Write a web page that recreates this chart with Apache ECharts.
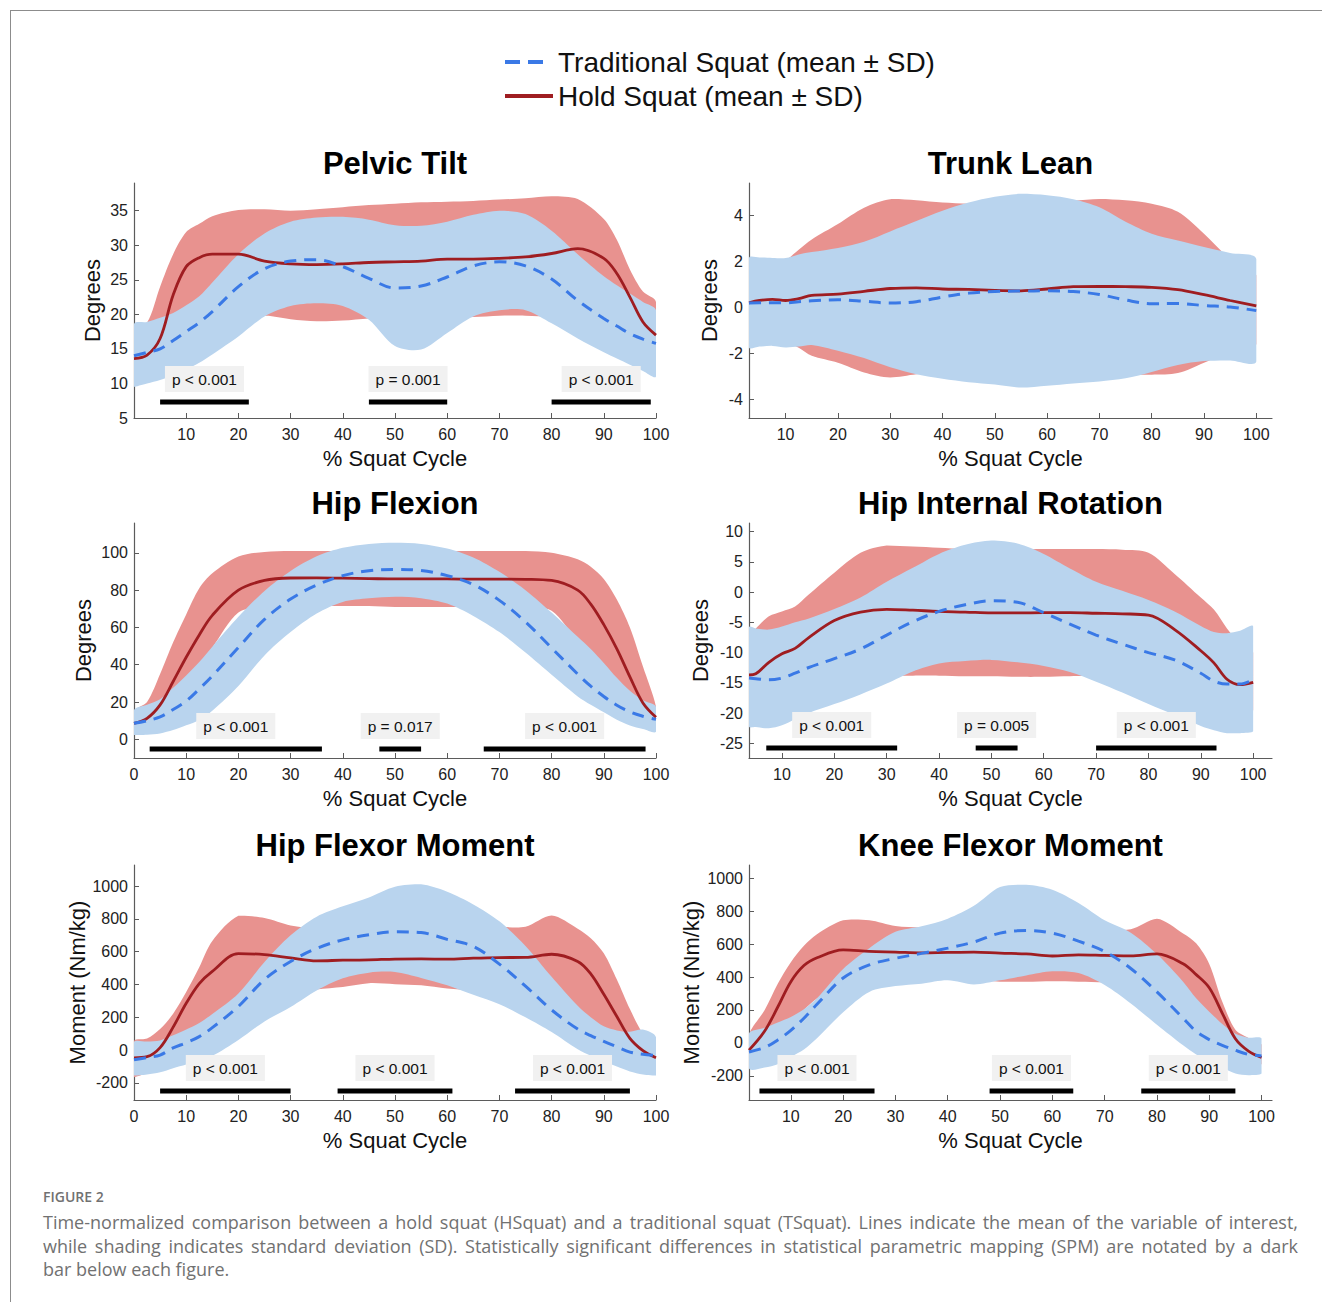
<!DOCTYPE html>
<html>
<head>
<meta charset="utf-8">
<title>Hold squat vs traditional squat</title>
<script src="https://cdn.jsdelivr.net/npm/echarts@6/dist/echarts.min.js"></script>
<style>
  html, body { margin: 0; padding: 0; background: #fff; }
  #page { position: relative; width: 1322px; height: 1302px; overflow: hidden; }
  #frame { position: absolute; left: 10px; top: 10px; right: 0; bottom: 0; border-top: 1px solid #8c8c8c; border-left: 1px solid #8c8c8c; }
  #chart { position: absolute; left: 0; top: 0; width: 1322px; height: 1302px; }
  #caption { position: absolute; left: 43px; top: 1188px; width: 1255px; font-family: "Open Sans", Lato, sans-serif; color: #717171; }
  #caption .fig { font-size: 14px; line-height: 18px; font-weight: 600; margin-bottom: 5px; }
  #caption .line { font-size: 18px; line-height: 23.5px; white-space: nowrap; }
</style>
</head>
<body>
<div id="page">
  <div id="frame"></div>
  <div id="chart"></div>
  <div id="caption">
    <div class="fig">FIGURE 2</div>
    <div class="line fit"><span>Time-normalized comparison between a hold squat (HSquat) and a traditional squat (TSquat). Lines indicate the mean of the variable of interest,</span></div>
    <div class="line fit"><span>while shading indicates standard deviation (SD). Statistically significant differences in statistical parametric mapping (SPM) are notated by a dark</span></div>
    <div class="line"><span>bar below each figure.</span></div>
  </div>
</div>
<script>
// stretch the first two caption lines to the full width (justified)
document.querySelectorAll("#caption .fit").forEach(line => {
  const span = line.firstElementChild;
  const gaps = span.textContent.split(" ").length - 1;
  const extra = line.clientWidth - span.getBoundingClientRect().width;
  span.style.wordSpacing = (extra / gaps) + "px";
});

// series names (legend)
const TS_NAME = "Traditional Squat (mean ± SD)";
const HS_NAME = "Hold Squat (mean ± SD)";

// shared tick labels
const xTicksAll = [0, 10, 20, 30, 40, 50, 60, 70, 80, 90, 100];
const xTicksFrom10 = [10, 20, 30, 40, 50, 60, 70, 80, 90, 100];

// ---- Pelvic Tilt ----
const pelvicX = [0, 2.5, 5, 7.5, 10, 12.5, 15, 20, 25, 30, 35, 40, 45, 50, 55, 60, 65, 70, 75, 80, 85, 90, 92.5, 95, 97.5, 100];
const pelvicTsMean = [14.0, 14.5, 15.0, 16.2, 17.5, 18.8, 20.4, 24.0, 26.6, 27.7, 27.9, 26.9, 25.2, 23.8, 24.1, 25.4, 27.0, 27.6, 27.0, 25.1, 22.0, 19.4, 18.3, 17.2, 16.4, 15.8];
const pelvicTsLo = [9.5, 10.0, 10.5, 11.2, 12.0, 13.0, 14.2, 16.8, 19.7, 21.2, 21.6, 21.2, 19.2, 15.4, 14.9, 17.3, 19.7, 20.6, 20.6, 18.7, 16.5, 14.5, 13.6, 12.7, 11.8, 11.0];
const pelvicTsHi = [18.6, 18.9, 19.5, 20.2, 21.3, 22.6, 24.6, 28.7, 31.7, 33.4, 34.0, 34.1, 33.7, 32.9, 32.8, 33.4, 34.4, 35.0, 34.5, 32.1, 28.7, 25.5, 24.2, 23.0, 21.8, 20.6];
const pelvicHsMean = [13.6, 14.1, 16.5, 22.8, 26.9, 28.2, 28.7, 28.7, 27.7, 27.3, 27.2, 27.3, 27.5, 27.6, 27.7, 28.0, 28.0, 28.1, 28.3, 28.8, 29.5, 28.1, 25.9, 22.5, 18.9, 17.0];
const pelvicHsLo = [10.5, 10.5, 11.5, 13.5, 15.5, 16.5, 17.5, 19.0, 19.8, 19.3, 19.0, 19.1, 19.4, 19.6, 19.5, 19.5, 19.6, 19.8, 19.8, 19.6, 19.0, 17.0, 15.5, 14.0, 13.0, 12.5];
const pelvicHsHi = [18.0, 18.8, 24.0, 28.7, 31.9, 33.1, 34.2, 35.1, 35.2, 35.0, 35.2, 35.5, 35.8, 36.0, 36.2, 36.3, 36.4, 36.6, 36.8, 37.1, 36.7, 33.8, 30.8, 26.5, 23.3, 21.8];
const pelvicSig = [[5, 22], [45, 60], [80, 99]];
const pelvicSigText = ["p < 0.001", "p = 0.001", "p < 0.001"];
const pelvicYTicks = [5, 10, 15, 20, 25, 30, 35];

// ---- Trunk Lean ----
const trunkX = [3, 5, 7.5, 10, 12.5, 15, 20, 25, 30, 35, 40, 45, 50, 55, 60, 65, 70, 75, 80, 85, 90, 95, 100];
const trunkTsMean = [0.19, 0.2, 0.2, 0.2, 0.25, 0.29, 0.33, 0.27, 0.19, 0.25, 0.45, 0.62, 0.69, 0.71, 0.72, 0.69, 0.56, 0.32, 0.16, 0.17, 0.08, 0.02, -0.14];
const trunkTsLo = [-1.74, -1.7, -1.67, -1.74, -1.7, -1.63, -1.88, -2.2, -2.6, -2.9, -3.1, -3.25, -3.35, -3.48, -3.4, -3.3, -3.22, -3.08, -2.8, -2.5, -2.33, -2.3, -2.35];
const trunkTsHi = [2.15, 2.17, 2.15, 2.14, 2.3, 2.4, 2.58, 2.85, 3.3, 3.75, 4.2, 4.55, 4.8, 4.93, 4.87, 4.7, 4.35, 3.72, 3.2, 2.9, 2.62, 2.36, 2.1];
const trunkHsMean = [0.2, 0.3, 0.35, 0.3, 0.38, 0.52, 0.58, 0.7, 0.82, 0.85, 0.8, 0.78, 0.74, 0.72, 0.8, 0.9, 0.91, 0.9, 0.87, 0.77, 0.55, 0.3, 0.07];
const trunkHsLo = [-1.5, -1.5, -1.5, -1.55, -1.75, -2.1, -2.4, -2.82, -3.04, -2.9, -2.8, -2.75, -2.75, -2.75, -2.75, -2.75, -2.8, -2.9, -2.92, -2.85, -2.4, -1.9, -1.6];
const trunkHsHi = [1.6, 1.7, 1.85, 2.05, 2.5, 2.95, 3.62, 4.33, 4.7, 4.65, 4.55, 4.5, 4.5, 4.5, 4.55, 4.63, 4.71, 4.65, 4.5, 4.15, 3.2, 2.1, 1.4];
const trunkSig = [];
const trunkSigText = [];
const trunkYTicks = [-4, -2, 0, 2, 4];

// ---- Hip Flexion ----
const hipFlexX = [0, 2.5, 5, 7.5, 10, 12.5, 15, 20, 25, 30, 35, 40, 45, 50, 55, 60, 65, 70, 75, 80, 85, 87.5, 90, 92.5, 95, 97.5, 100];
const hipFlexTsMean = [8.6, 10, 12, 16, 20.5, 27, 34, 49.3, 64.3, 75.2, 82.7, 87.8, 90.4, 91.1, 90.5, 87.8, 83, 74.5, 63, 49, 35, 28.5, 23, 18.3, 14.7, 12.4, 10.7];
const hipFlexTsLo = [2.3, 2.5, 3.2, 5, 7.5, 10.4, 15.3, 28.6, 45, 57.5, 67.5, 73.7, 75.6, 76.4, 75.7, 72.8, 66.2, 57.5, 46.5, 34.6, 23, 18.5, 14.5, 10.5, 7.4, 5.5, 4.1];
const hipFlexTsHi = [15.7, 18.5, 21.5, 27.6, 34.3, 41.5, 49.7, 65.7, 79.6, 90.3, 98.2, 102.7, 104.8, 105.4, 104.8, 102.3, 97.5, 89.8, 80, 68, 55, 48.5, 41, 33, 26, 21, 17.5];
const hipFlexHsMean = [8.6, 11.3, 18.5, 31, 44, 56, 66.5, 80, 85.2, 86.5, 86.6, 86.4, 86.2, 86, 86, 86, 85.9, 85.9, 85.8, 85.2, 80, 72.5, 61.5, 48.5, 33.5, 19.5, 11.8];
const hipFlexHsLo = [4, 6, 10, 17, 27, 38, 49, 68, 71, 71.5, 71.5, 71.5, 71.5, 71, 71, 71, 71, 71, 70.5, 69, 52, 42, 33, 25, 18, 12, 7];
const hipFlexHsHi = [15, 20, 35, 52, 67, 81, 89, 98, 100.5, 101, 101, 101, 101, 101, 101, 101, 101, 101, 101, 100, 96.5, 92.5, 86, 75, 60, 39, 17.5];
const hipFlexSig = [[3, 36], [47, 55], [67, 98]];
const hipFlexSigText = ["p < 0.001", "p = 0.017", "p < 0.001"];
const hipFlexYTicks = [0, 20, 40, 60, 80, 100];

// ---- Hip Internal Rotation ----
const hipRotX = [3.7, 5, 7.5, 10, 12.5, 15, 20, 25, 30, 35, 40, 45, 50, 55, 60, 65, 70, 75, 80, 85, 90, 92.5, 95, 97.5, 100];
const hipRotTsMean = [-14.2, -14.3, -14.5, -14.2, -13.4, -12.5, -11.0, -9.4, -7.1, -4.9, -3.2, -2.1, -1.45, -1.7, -3.4, -5.3, -7.1, -8.6, -10.0, -11.2, -13.4, -14.7, -15.2, -15.2, -14.5];
const hipRotTsLo = [-22.2, -22.3, -22.5, -22.0, -21.0, -20.0, -18.5, -16.9, -15.1, -13.1, -11.8, -11.4, -11.2, -11.6, -12.2, -13.2, -14.8, -16.6, -18.5, -20.3, -22.1, -22.8, -23.3, -23.3, -23.0];
const hipRotTsHi = [-5.8, -6.0, -6.2, -5.7, -5.0, -4.4, -2.8, -0.9, 1.7, 4.0, 6.3, 7.8, 8.5, 8.0, 6.3, 3.9, 1.7, 0.2, -1.3, -3.2, -5.6, -6.6, -6.8, -6.4, -5.7];
const hipRotHsMean = [-13.7, -13.5, -11.6, -10.2, -9.3, -7.6, -4.7, -3.3, -2.85, -3.0, -3.2, -3.3, -3.45, -3.45, -3.4, -3.4, -3.5, -3.6, -3.8, -6.2, -9.7, -11.7, -14.4, -15.3, -14.9];
const hipRotHsLo = [-19, -19, -18.5, -17.5, -17, -16.5, -15.5, -14.5, -13.9, -13.8, -13.8, -13.9, -13.9, -14.0, -14.0, -13.9, -13.9, -14.2, -15, -16, -18, -19, -20, -20, -19.5];
const hipRotHsHi = [-7.0, -6.0, -4.0, -3.2, -2.4, -0.5, 3.2, 6.5, 7.7, 7.5, 7.3, 7.1, 7.0, 7.0, 7.1, 7.1, 7.1, 7.0, 6.5, 3.0, -0.9, -2.9, -6.0, -8.5, -10];
const hipRotSig = [[7, 32], [47, 55], [70, 93]];
const hipRotSigText = ["p < 0.001", "p = 0.005", "p < 0.001"];
const hipRotYTicks = [-25, -20, -15, -10, -5, 0, 5, 10];

// ---- Hip Flexor Moment ----
const hipMomX = [0, 2.5, 5, 7.5, 10, 12.5, 15, 20, 25, 30, 35, 40, 45, 50, 55, 60, 65, 70, 75, 80, 85, 87.5, 90, 92.5, 95, 97.5, 100];
const hipMomTsMean = [-59, -45, -30, 13, 45, 82, 137, 266, 430, 540, 620, 672, 703, 721, 716, 675, 632, 524, 390, 245, 128, 88, 53, 20, -12, -25, -33];
const hipMomTsLo = [-155, -148, -135, -110, -88, -60, -35, 62, 175, 263, 364, 438, 472, 476, 440, 395, 337, 280, 200, 110, 5, -35, -70, -100, -130, -148, -155];
const hipMomTsHi = [49, 52, 59, 90, 125, 165, 220, 345, 537, 700, 813, 876, 930, 995, 1010, 965, 888, 785, 635, 447, 270, 200, 145, 120, 112, 125, 79];
const hipMomHsMean = [-47, -40, 15, 140, 285, 405, 480, 588, 582, 562, 544, 548, 550, 555, 556, 554, 560, 564, 565, 584, 540, 465, 340, 205, 72, -3, -47];
const hipMomHsLo = [-165, -140, -100, -60, -20, 40, 100, 200, 290, 340, 370, 385, 408, 402, 395, 375, 365, 360, 340, 300, 230, 180, 120, 40, -30, -80, -100];
const hipMomHsHi = [55, 70, 128, 222, 354, 505, 665, 818, 805, 760, 740, 730, 730, 730, 735, 740, 745, 750, 752, 820, 740, 682, 590, 430, 250, 100, 20];
const hipMomSig = [[5, 30], [39, 61], [73, 95]];
const hipMomSigText = ["p < 0.001", "p < 0.001", "p < 0.001"];
const momentYTicks = [-200, 0, 200, 400, 600, 800, 1000];

// ---- Knee Flexor Moment ----
const kneeMomX = [2, 5, 7.5, 10, 12.5, 15, 20, 25, 30, 35, 40, 45, 50, 55, 60, 65, 70, 75, 80, 85, 87.5, 90, 92.5, 95, 97.5, 100];
const kneeMomTsMean = [-55, -28, 18, 76, 150, 235, 394, 474, 514, 544, 576, 613, 667, 683, 667, 618, 555, 452, 310, 150, 70, 20, -15, -45, -70, -79];
const kneeMomTsLo = [-156, -150, -130, -85, -40, 28, 186, 310, 345, 360, 380, 355, 380, 410, 435, 425, 352, 240, 110, -15, -70, -105, -150, -186, -196, -186];
const kneeMomTsHi = [57, 92, 124, 157, 204, 271, 449, 575, 675, 709, 755, 833, 948, 961, 931, 850, 745, 670, 540, 372, 271, 190, 115, 55, 32, 26];
const kneeMomHsMean = [-44, 72, 218, 372, 470, 517, 565, 556, 552, 547, 550, 552, 545, 541, 528, 535, 532, 529, 541, 481, 415, 335, 180, 25, -50, -89];
const kneeMomHsLo = [-120, -60, 20, 120, 200, 270, 350, 380, 390, 395, 395, 385, 372, 372, 375, 372, 368, 360, 320, 250, 200, 130, 40, -50, -110, -130];
const kneeMomHsHi = [50, 200, 360, 490, 590, 660, 745, 745, 710, 700, 690, 690, 690, 690, 690, 690, 690, 690, 754, 665, 605, 480, 250, 80, 30, -10];
const kneeMomSig = [[4, 26], [48, 64], [77, 95]];
const kneeMomSigText = ["p < 0.001", "p < 0.001", "p < 0.001"];

// look
const FONT = "Liberation Sans, Arial, Helvetica, sans-serif";
const AXIS_COLOR = "#5b5b5b";
const TS_BAND = "#b9d4ee";
const HS_BAND = "#e8928f";
const TS_LINE = "#3a79e6";
const HS_LINE = "#9f1d21";

// layout of the six panels (pixels)
const panels = [
  { title: "Pelvic Tilt", yName: "Degrees", x: pelvicX, tsMean: pelvicTsMean, tsLo: pelvicTsLo, tsHi: pelvicTsHi,
    hsMean: pelvicHsMean, hsLo: pelvicHsLo, hsHi: pelvicHsHi, sig: pelvicSig, sigText: pelvicSigText,
    xMin: 0, xMax: 100, xTicks: xTicksFrom10, yMin: 5, yMax: 39, yTicks: pelvicYTicks,
    left: 134, top: 183, width: 522, nameGap: 31, barOffset: 16, titleY: 163 },
  { title: "Trunk Lean", yName: "Degrees", x: trunkX, tsMean: trunkTsMean, tsLo: trunkTsLo, tsHi: trunkTsHi,
    hsMean: trunkHsMean, hsLo: trunkHsLo, hsHi: trunkHsHi, sig: trunkSig, sigText: trunkSigText,
    xMin: 3, xMax: 103, xTicks: xTicksFrom10, yMin: -4.8, yMax: 5.4, yTicks: trunkYTicks,
    left: 749, top: 183, width: 523, nameGap: 29, barOffset: 10, titleY: 163 },
  { title: "Hip Flexion", yName: "Degrees", x: hipFlexX, tsMean: hipFlexTsMean, tsLo: hipFlexTsLo, tsHi: hipFlexTsHi,
    hsMean: hipFlexHsMean, hsLo: hipFlexHsLo, hsHi: hipFlexHsHi, sig: hipFlexSig, sigText: hipFlexSigText,
    xMin: 0, xMax: 100, xTicks: xTicksAll, yMin: -10, yMax: 116, yTicks: hipFlexYTicks,
    left: 134, top: 523, width: 522, nameGap: 40, barOffset: 9, titleY: 503 },
  { title: "Hip Internal Rotation", yName: "Degrees", x: hipRotX, tsMean: hipRotTsMean, tsLo: hipRotTsLo, tsHi: hipRotTsHi,
    hsMean: hipRotHsMean, hsLo: hipRotHsLo, hsHi: hipRotHsHi, sig: hipRotSig, sigText: hipRotSigText,
    xMin: 3.7, xMax: 103.6, xTicks: xTicksFrom10, yMin: -27.4, yMax: 11.4, yTicks: hipRotYTicks,
    left: 749, top: 523, width: 523, nameGap: 38, barOffset: 10, titleY: 503 },
  { title: "Hip Flexor Moment", yName: "Moment (Nm/kg)", x: hipMomX, tsMean: hipMomTsMean, tsLo: hipMomTsLo, tsHi: hipMomTsHi,
    hsMean: hipMomHsMean, hsLo: hipMomHsLo, hsHi: hipMomHsHi, sig: hipMomSig, sigText: hipMomSigText,
    xMin: 0, xMax: 100, xTicks: xTicksAll, yMin: -304, yMax: 1128, yTicks: momentYTicks,
    left: 134, top: 865, width: 522, nameGap: 46, barOffset: 9, titleY: 845 },
  { title: "Knee Flexor Moment", yName: "Moment (Nm/kg)", x: kneeMomX, tsMean: kneeMomTsMean, tsLo: kneeMomTsLo, tsHi: kneeMomTsHi,
    hsMean: kneeMomHsMean, hsLo: kneeMomHsLo, hsHi: kneeMomHsHi, sig: kneeMomSig, sigText: kneeMomSigText,
    xMin: 2, xMax: 102, xTicks: xTicksFrom10, yMin: -347, yMax: 1081, yTicks: momentYTicks,
    left: 749, top: 865, width: 523, nameGap: 47, barOffset: 9, titleY: 845 }
];
const PANEL_HEIGHT = 235;

function pairs(xs, ys) {
  return xs.map((v, k) => [v, ys[k]]);
}

// SD band: one filled polygon, upper edge then lower edge back
function band(i, xs, lo, hi, color) {
  return {
    type: "custom", xAxisIndex: i, yAxisIndex: i, silent: true, clip: true,
    data: xs.map((v, k) => [v, lo[k], hi[k]]),
    encode: { x: 0, y: [1, 2] },
    renderItem: function (params, api) {
      if (params.dataIndex !== 0) return null;
      const upper = xs.map((v, k) => api.coord([v, hi[k]]));
      const lower = xs.map((v, k) => api.coord([v, lo[k]])).reverse();
      const pts = upper.concat(lower);
      const px = pts.map(q => q[0]), py = pts.map(q => q[1]);
      const box = [[Math.min(...px), Math.min(...py)], [Math.max(...px), Math.max(...py)]];
      return {
        type: "polygon",
        shape: { points: pts, smooth: 0.3, smoothConstraint: box },
        style: { fill: color }
      };
    }
  };
}

function sigRenderer(p) {
  return function (params, api) {
    const a = api.coord([api.value(0), 0]);
    const b = api.coord([api.value(1), 0]);
    const cs = params.coordSys;
    const yBar = cs.y + cs.height - p.barOffset;
    return {
      type: "group",
      children: [
        { type: "rect", shape: { x: a[0], y: yBar - 2.5, width: b[0] - a[0], height: 5 }, style: { fill: "#000" } },
        { type: "text", style: {
            text: p.sigText[params.dataIndex], x: (a[0] + b[0]) / 2, y: yBar - 23,
            align: "center", verticalAlign: "middle", fill: "#111",
            fontSize: 15.5, fontFamily: FONT, backgroundColor: "#f1f1f1", padding: [5, 7]
        } }
      ]
    };
  };
}

const series = [];
panels.forEach((p, i) => {
  series.push(band(i, p.x, p.hsLo, p.hsHi, HS_BAND));
  series.push(band(i, p.x, p.tsLo, p.tsHi, TS_BAND));
  series.push({
    name: HS_NAME, type: "line", xAxisIndex: i, yAxisIndex: i, data: pairs(p.x, p.hsMean),
    smooth: 0.35, symbol: "none", color: HS_LINE, itemStyle: { color: HS_LINE },
    lineStyle: { color: HS_LINE, width: 2.8 }, emphasis: { disabled: true }
  });
  series.push({
    name: TS_NAME, type: "line", xAxisIndex: i, yAxisIndex: i, data: pairs(p.x, p.tsMean),
    smooth: 0.35, symbol: "none", color: TS_LINE, itemStyle: { color: TS_LINE },
    lineStyle: { color: TS_LINE, width: 3, type: [12, 8] }, emphasis: { disabled: true }
  });
  if (p.sig.length) {
    series.push({
      type: "custom", xAxisIndex: i, yAxisIndex: i, clip: false, z: 10, silent: true,
      data: p.sig.map(s => [s[0], s[1], 0]), encode: { x: [0, 1], y: 2 },
      renderItem: sigRenderer(p)
    });
  }
});

const plainNumber = v => String(v);

const option = {
  animation: false,
  backgroundColor: "transparent",
  title: panels.map(p => ({
    text: p.title, left: p.left + p.width / 2, top: p.titleY, padding: 0,
    textAlign: "center", textVerticalAlign: "middle",
    textStyle: { fontSize: 31, fontWeight: "bold", color: "#000", fontFamily: FONT }
  })),
  legend: {
    data: [
      { name: TS_NAME, icon: "path://M0,0h15v4h-15zM23,0h15v4h-15zM48,0v4" },
      { name: HS_NAME, icon: "path://M0,0h48v4h-48z" }
    ],
    orient: "vertical", left: 505, top: 45, padding: 0, itemGap: 0,
    itemWidth: 48, itemHeight: 4, selectedMode: false,
    textStyle: { fontSize: 28, color: "#111", fontFamily: FONT, lineHeight: 34 }
  },
  grid: panels.map(p => ({ left: p.left, top: p.top, width: p.width, height: PANEL_HEIGHT })),
  xAxis: panels.map((p, i) => ({
    type: "value", gridIndex: i, min: p.xMin, max: p.xMax,
    name: "% Squat Cycle", nameLocation: "middle", nameGap: 29,
    nameTextStyle: { fontSize: 22, color: "#111", fontFamily: FONT },
    axisLine: { onZero: false, lineStyle: { color: AXIS_COLOR, width: 1.2 } },
    axisTick: { inside: true, length: 5, customValues: p.xTicks, lineStyle: { color: AXIS_COLOR } },
    axisLabel: { customValues: p.xTicks, formatter: plainNumber, fontSize: 16, color: "#222", margin: 8, fontFamily: FONT },
    splitLine: { show: false }
  })),
  yAxis: panels.map((p, i) => ({
    type: "value", gridIndex: i, min: p.yMin, max: p.yMax,
    name: p.yName, nameLocation: "middle", nameGap: p.nameGap,
    nameTextStyle: { fontSize: 22, color: "#111", fontFamily: FONT },
    axisLine: { show: true, onZero: false, lineStyle: { color: AXIS_COLOR, width: 1.2 } },
    axisTick: { show: true, inside: true, length: 5, customValues: p.yTicks, lineStyle: { color: AXIS_COLOR } },
    axisLabel: { customValues: p.yTicks, formatter: plainNumber, fontSize: 16, color: "#222", margin: 6, fontFamily: FONT },
    splitLine: { show: false }
  })),
  series: series
};

const chart = echarts.init(document.getElementById("chart"), null, { renderer: "svg" });
chart.setOption(option);
</script>
</body>
</html>
